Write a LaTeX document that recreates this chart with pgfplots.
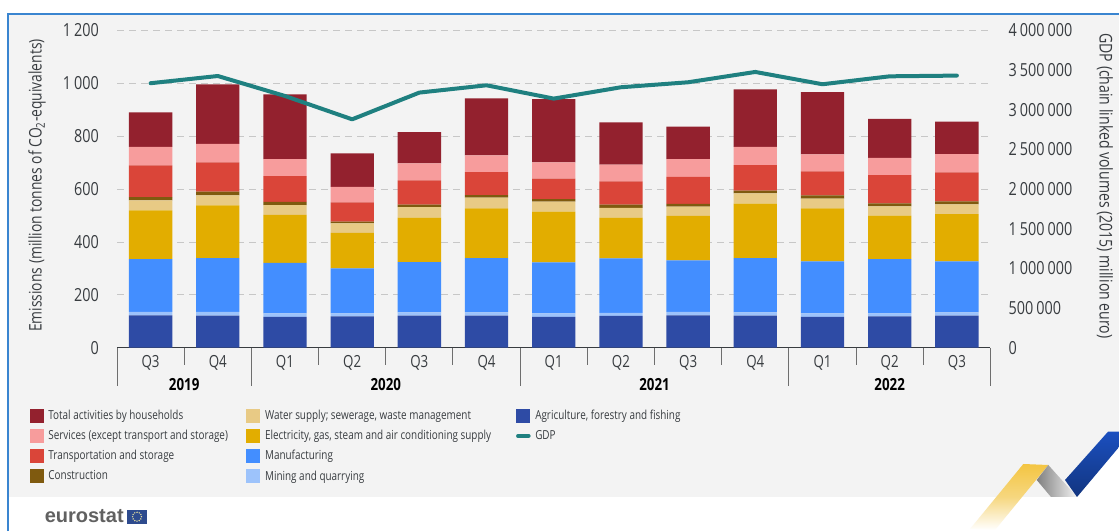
\documentclass[border=0pt]{standalone}
\usepackage{pgfplots}
\usepackage{pgfplotstable}
\usepackage{fontspec}
\pgfplotsset{compat=1.18}
\setmainfont[FakeStretch=0.8]{Open Sans}
\newfontfamily\logofont{Liberation Sans}

\definecolor{panel}{HTML}{F3F3F3}
\definecolor{frame}{HTML}{3A85D0}
\definecolor{cHouse}{HTML}{93212E}
\definecolor{cServ}{HTML}{F79C9C}
\definecolor{cTrans}{HTML}{DA4539}
\definecolor{cConstr}{HTML}{7F5A0F}
\definecolor{cWater}{HTML}{E8CA85}
\definecolor{cElec}{HTML}{E2AD00}
\definecolor{cManu}{HTML}{438EFF}
\definecolor{cMining}{HTML}{9DC3FB}
\definecolor{cAgri}{HTML}{2E4BA5}
\definecolor{cGDP}{HTML}{1F8080}
\definecolor{txt}{HTML}{383C40}
\definecolor{sepline}{HTML}{6E6E6E}
\definecolor{flagblue}{HTML}{2E4B8E}
\definecolor{flagstar}{HTML}{E6DFA0}
\definecolor{ribbonY}{HTML}{F4C542}
\definecolor{ribbonYm}{HTML}{F6D77F}
\definecolor{ribbonB}{HTML}{1B4FBF}
\definecolor{ribbonBd}{HTML}{12357F}

% Emissions by activity (million tonnes of CO2-equivalents) and GDP, quarterly
\pgfplotstableread{
x agri mining manu elec water constr trans serv house gdp
0  122 13 200 184 38 12 120 70 131 3333000
1  121 14 204 199 38 14 111 70 225 3424000
2  117 13 191 181 37 12  98 64 245 3172000
3  118 12 170 134 36  7  72 59 127 2878000
4  121 13 190 168 39 10  92 64 118 3215000
5  121 13 205 188 40 10  87 63 216 3307000
6  117 13 193 191 38 10  77 62 239 3139000
7  120 12 206 154 37 12  88 63 160 3282000
8  122 13 195 168 35 11 102 67 123 3345000
9  121 13 205 206 38 11  96 69 218 3475000
10 117 13 196 201 37 12  91 64 235 3320000
11 118 12 205 164 35 12 106 66 147 3420000
12 121 13 192 179 37 11 110 69 123 3429000
}\emissions

\newcommand{\entA}[1]{\makebox[148.5pt][l]{#1}}
\newcommand{\entB}[1]{\makebox[188.25pt][l]{#1}}

\pgfplotsset{
  swatch/.style={legend image code/.code={\fill[##1, draw=none] (0pt,-5.25pt) rectangle (10.5pt,5.25pt);}},
  stroke/.style={legend image code/.code={\draw[##1] (1.2pt,0pt) -- (9.3pt,0pt);}},
  frameaxis/.style={
    scale only axis, width=655.1pt, height=238.05pt,
    at={(87.75pt,137.475pt)}, anchor=south west,
    xmin=-0.5, xmax=12.5,
  },
}

\begin{document}
\begin{tikzpicture}
\path[use as bounding box] (0,0) rectangle (839.25pt,398.25pt);

% page furniture, laid out in a top-left pixel grid
\begin{scope}[x=0.75pt,y=-0.75pt,yshift=398.25pt]
  \fill[white] (0,0) rectangle (1119,531);
  \fill[panel] (8,14) rectangle (1119,497);
  \draw[frame,line width=1.2pt] (7.8,531) -- (7.8,14.3) -- (1119,14.3);
\end{scope}

% bars, grid and category axis
\begin{axis}[
  frameaxis,
  ybar stacked, bar width=32.5pt,
  ymin=0, ymax=1200, ytick={0,200,...,1200},
  axis x line=bottom, axis y line=left,
  y axis line style={draw=none}, x axis line style={-, color=txt, line width=0.9pt},
  ymajorgrids, grid style={dash pattern=on 5pt off 4pt, color=black!22, line width=0.5pt},
  ytick style={draw=none}, xtick style={draw=none},
  xtick={0,...,12},
  xticklabels={Q3,Q4,Q1,Q2,Q3,Q4,Q1,Q2,Q3,Q4,Q1,Q2,Q3},
  x tick label style={font=\fontsize{12.5}{12.5}\selectfont, text=txt, yshift=0pt},
  y tick label style={font=\fontsize{13.5}{13.5}\selectfont, text=txt, xshift=-8pt},
  /pgf/number format/.cd, fixed, precision=0, 1000 sep={\,}, assume math mode=true,
  /pgfplots/.cd,
  ylabel={Emissions (million tonnes of CO\textsubscript{2}-equivalents)},
  ylabel style={font=\fontsize{13}{13}\selectfont, text=txt, anchor=center, at={(axis description cs:-0.0916,0.511)}},
  clip=false,
  legend cell align=left,
  legend columns=3,
  legend style={
    draw=none, fill=none, inner sep=0pt, outer sep=0pt,
    at={(-0.0999,-0.192)}, anchor=north west,
    nodes={inner sep=0pt, outer sep=0pt, font=\fontsize{9.3}{10}\selectfont, text=txt},
    row sep=4.7pt,
    /tikz/every odd column/.append style={column sep=3.5pt},
  },
]
\addplot[fill=cAgri,   draw=none, forget plot] table[x=x,y=agri]   {\emissions};
\addplot[fill=cMining, draw=none, forget plot] table[x=x,y=mining] {\emissions};
\addplot[fill=cManu,   draw=none, forget plot] table[x=x,y=manu]   {\emissions};
\addplot[fill=cElec,   draw=none, forget plot] table[x=x,y=elec]   {\emissions};
\addplot[fill=cWater,  draw=none, forget plot] table[x=x,y=water]  {\emissions};
\addplot[fill=cConstr, draw=none, forget plot] table[x=x,y=constr] {\emissions};
\addplot[fill=cTrans,  draw=none, forget plot] table[x=x,y=trans]  {\emissions};
\addplot[fill=cServ,   draw=none, forget plot] table[x=x,y=serv]   {\emissions};
\addplot[fill=cHouse,  draw=none, forget plot] table[x=x,y=house]  {\emissions};

% legend, row by row across the three columns
\addlegendimage{swatch, fill=cHouse}   \addlegendentry{\entA{Total activities by households}}
\addlegendimage{swatch, fill=cWater}   \addlegendentry{\entB{Water supply; sewerage, waste management}}
\addlegendimage{swatch, fill=cAgri}    \addlegendentry{Agriculture, forestry and fishing}
\addlegendimage{swatch, fill=cServ}    \addlegendentry{\entA{Services (except transport and storage)}}
\addlegendimage{swatch, fill=cElec}    \addlegendentry{\entB{Electricity, gas, steam and air conditioning supply}}
\addlegendimage{stroke, draw=cGDP, line width=2.8pt, line cap=round} \addlegendentry{GDP}
\addlegendimage{swatch, fill=cTrans}   \addlegendentry{\entA{Transportation and storage}}
\addlegendimage{swatch, fill=cManu}    \addlegendentry{\entB{Manufacturing}}
\addlegendimage{empty legend}          \addlegendentry{}
\addlegendimage{swatch, fill=cConstr}  \addlegendentry{\entA{Construction}}
\addlegendimage{swatch, fill=cMining}  \addlegendentry{\entB{Mining and quarrying}}
\addlegendimage{empty legend}          \addlegendentry{}

% short separators between quarters, long ones between years
\pgfplotsinvokeforeach{0.5,2.5,3.5,4.5,6.5,7.5,8.5,10.5,11.5}{
  \draw[sepline, line width=0.7pt] (axis cs:#1,0) -- ([yshift=-13pt]axis cs:#1,0);
}
\pgfplotsinvokeforeach{-0.5,1.5,5.5,9.5,12.5}{
  \draw[sepline, line width=0.7pt] (axis cs:#1,0) -- ([yshift=-28.8pt]axis cs:#1,0);
}

% year captions under the quarters
\node[font=\fontsize{12.5}{12.5}\selectfont\bfseries, text=black] at (axis cs:0.5,0)  [yshift=-27.3pt] {2019};
\node[font=\fontsize{12.5}{12.5}\selectfont\bfseries, text=black] at (axis cs:3.5,0)  [yshift=-27.3pt] {2020};
\node[font=\fontsize{12.5}{12.5}\selectfont\bfseries, text=black] at (axis cs:7.5,0)  [yshift=-27.3pt] {2021};
\node[font=\fontsize{12.5}{12.5}\selectfont\bfseries, text=black] at (axis cs:11,0)   [yshift=-27.3pt] {2022};
\end{axis}

% GDP on the right-hand scale
\begin{axis}[
  frameaxis,
  ymin=0, ymax=4000000, ytick={0,500000,...,4000000},
  scaled y ticks=false,
  axis x line=none, axis y line=right,
  y axis line style={draw=none}, ytick style={draw=none},
  yticklabel style={anchor=west, xshift=8pt, font=\fontsize{13.5}{13.5}\selectfont, text=txt},
  /pgf/number format/.cd, fixed, precision=0, 1000 sep={\,}, assume math mode=true,
  /pgfplots/.cd,
  ylabel={GDP (chain linked volumes (2015) million euro)},
  ylabel style={font=\fontsize{13.2}{13.2}\selectfont, text=txt, rotate=180, anchor=center, at={(axis description cs:1.131,0.5095)}},
  clip=false,
]
\addplot[cGDP, line width=3pt, line cap=round, line join=round, mark=none]
  table[x=x,y=gdp] {\emissions};
\end{axis}

% logo and corner ribbon
\begin{scope}[x=0.75pt,y=-0.75pt,yshift=398.25pt]
  \node[anchor=west, inner sep=0pt, font=\logofont\bfseries\fontsize{15}{15}\selectfont, text=black!62] at (44.5,516.5) {eurostat};
  \fill[flagblue] (126.7,509.7) rectangle (147.3,523.7);
  \foreach \a in {0,30,...,330}
    \fill[flagstar] ({137+4.4*cos(\a)},{516.7+4.4*sin(\a)}) circle (0.8);

  \fill[white] (1077,497) -- (1119,447) -- (1119,497) -- cycle;
  \shade[top color=ribbonY, bottom color=white, middle color=ribbonYm]
    (1023.3,464) -- (1048.3,465) -- (995,530) -- (970,529) -- cycle;
  \shade[left color=black!50, right color=panel]
    (1048.3,465) -- (1077,497) -- (1051,497) -- (1036.7,480) -- cycle;
  \shade[top color=ribbonB, bottom color=ribbonBd]
    (1065,480) -- (1108,431.7) -- (1119,431.7) -- (1119,447) -- (1077,497) -- cycle;
\end{scope}
\end{tikzpicture}
\end{document}
